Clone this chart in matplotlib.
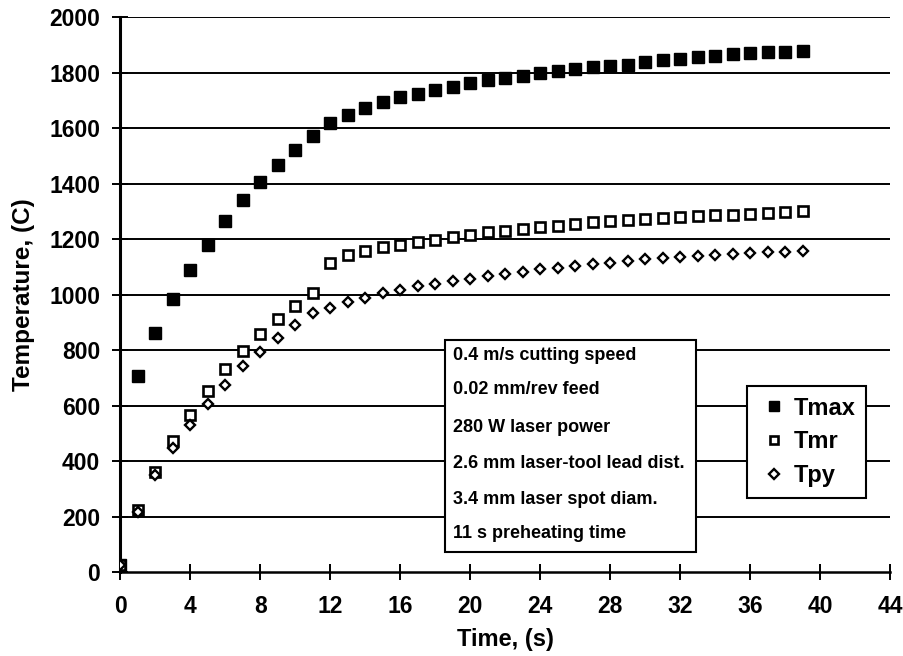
import matplotlib

matplotlib.use("Agg")
import matplotlib.pyplot as plt
import numpy as np
from matplotlib.patches import Rectangle

plt.rcParams["font.family"] = ["Liberation Sans", "DejaVu Sans"]
plt.rcParams["font.weight"] = "bold"

# time (s)
time_s = list(range(0, 40))

# temperatures (C)
t_max = [25, 705, 860, 985, 1090, 1180, 1265, 1340, 1406, 1468,
         1521, 1570, 1618, 1647, 1674, 1693, 1711, 1723, 1737, 1749,
         1761, 1773, 1779, 1787, 1797, 1805, 1813, 1821, 1823, 1827,
         1837, 1845, 1849, 1855, 1859, 1866, 1869, 1873, 1875, 1879]
t_mr = [25, 222, 362, 472, 565, 652, 730, 796, 857, 911,
        960, 1004, 1113, 1141, 1157, 1172, 1180, 1188, 1198, 1206,
        1216, 1224, 1230, 1236, 1242, 1248, 1255, 1261, 1264, 1269,
        1273, 1275, 1279, 1282, 1285, 1288, 1291, 1295, 1297, 1300]
t_py = [25, 215, 350, 447, 529, 604, 673, 741, 793, 842,
        890, 933, 952, 973, 989, 1004, 1017, 1030, 1039, 1048,
        1057, 1067, 1073, 1081, 1091, 1097, 1103, 1109, 1115, 1121,
        1127, 1131, 1136, 1139, 1143, 1145, 1149, 1152, 1154, 1156]

x_ticks = list(range(0, 45, 4))
y_ticks = list(range(0, 2001, 200))

notes = ["0.4 m/s cutting speed",
         "0.02 mm/rev feed",
         "280 W laser power",
         "2.6 mm laser-tool lead dist.",
         "3.4 mm laser spot diam.",
         "11 s preheating time"]

fig = plt.figure(figsize=(9.04, 6.56), dpi=100)
ax = fig.add_axes([0.133, 0.128, 0.852, 0.846])

for yv in y_ticks[1:]:
    ax.axhline(yv, color="black", lw=1.4, zorder=1)

ax.plot(time_s, t_max, ls="none", marker="s", ms=8.8, mfc="black", mec="black",
        label="Tmax", zorder=3)
ax.plot(time_s, t_mr, ls="none", marker="s", ms=7.5, mfc="white", mec="black",
        mew=1.9, label="Tmr", zorder=3)
ax.plot(time_s, t_py, ls="none", marker="D", ms=5.5, mfc="white", mec="black",
        mew=1.7, label="Tpy", zorder=3)

ax.set_xlim(0, 44)
ax.set_ylim(0, 2000)
ax.set_xticks(x_ticks)
ax.set_yticks(y_ticks)
ax.tick_params(axis="both", direction="inout", length=11, width=1.4,
               labelsize=16.5, color="black")
ax.tick_params(axis="x", pad=11)
ax.tick_params(axis="y", pad=9)
for lab in ax.get_xticklabels() + ax.get_yticklabels():
    lab.set_fontweight("bold")
for side in ["top", "right"]:
    ax.spines[side].set_visible(False)
ax.spines["left"].set_linewidth(2.2)
ax.spines["bottom"].set_linewidth(1.8)

ax.set_xlabel("Time, (s)", fontsize=17, fontweight="bold", labelpad=7)
ax.set_ylabel("Temperature, (C)", fontsize=17.5, fontweight="bold", labelpad=10)

# parameter box
box = Rectangle((0.422, 0.036), 0.325, 0.382, transform=ax.transAxes,
                facecolor="white", edgecolor="black", lw=1.5, zorder=4)
ax.add_patch(box)
note_y = [0.391, 0.328, 0.261, 0.196, 0.130, 0.070]
for txt, yy in zip(notes, note_y):
    ax.text(0.432, yy, txt, transform=ax.transAxes, fontsize=13,
            fontweight="bold", va="center", ha="left", zorder=5)

leg = ax.legend(loc="upper right", bbox_to_anchor=(0.968, 0.335),
                fontsize=17, frameon=True, fancybox=False, edgecolor="black",
                framealpha=1, borderpad=0.45, labelspacing=0.45,
                handletextpad=0.1, handlelength=1.4, borderaxespad=0,
                markerscale=0.85)
leg.get_frame().set_linewidth(1.5)
leg.set_zorder(6)
for t in leg.get_texts():
    t.set_fontweight("bold")

fig.savefig("out.png", dpi=100)
